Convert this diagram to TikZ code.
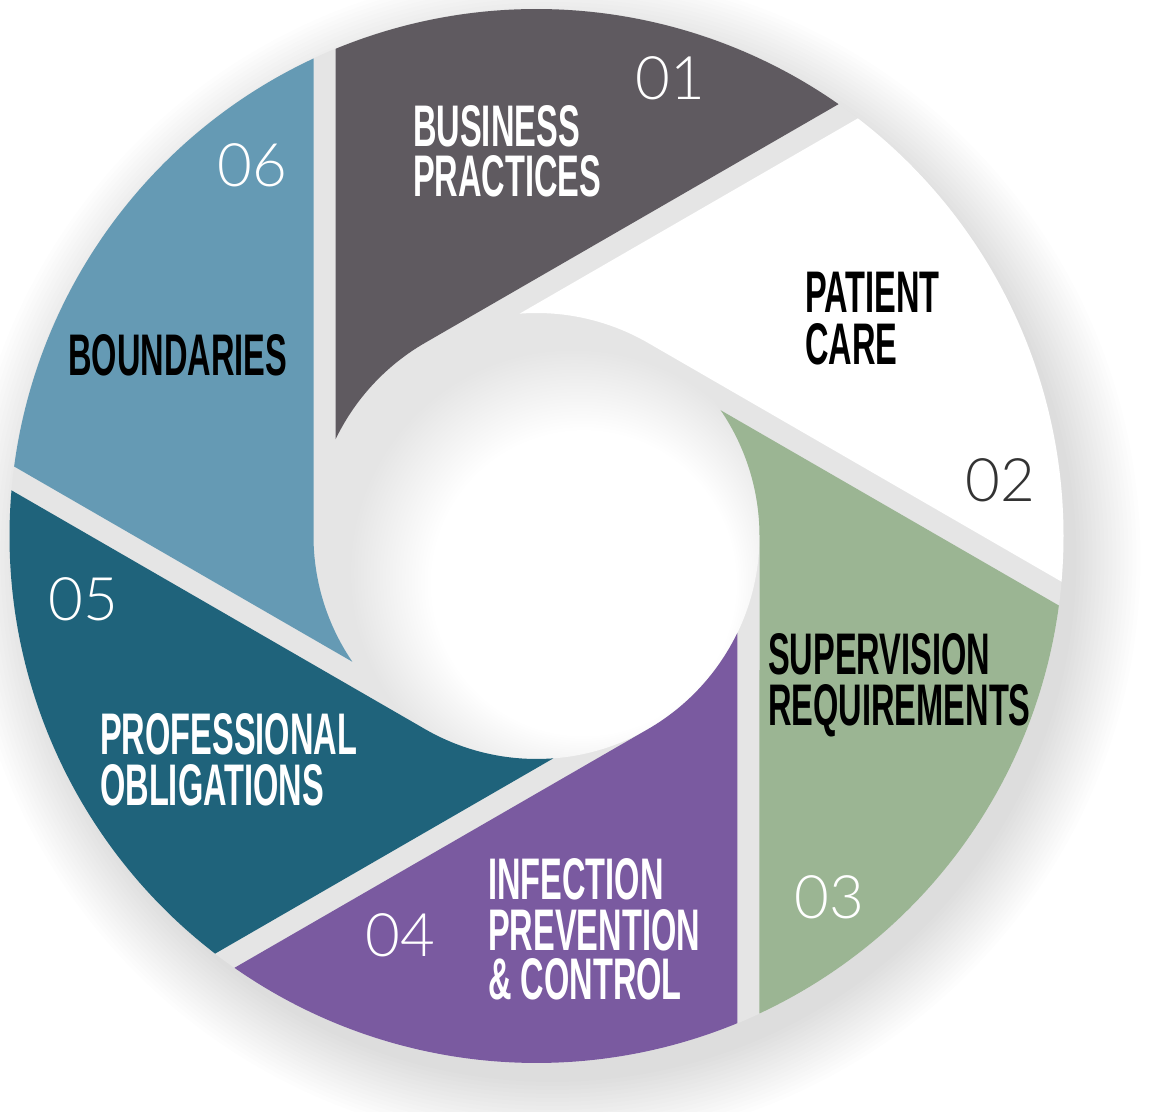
\documentclass[tikz,border=0pt]{standalone}
\usepackage{fontspec}
\usetikzlibrary{calc}
\newfontfamily\labelfont{Liberation Sans}[FakeStretch=0.555]
\newfontfamily\numfont{Lato Light}
\definecolor{bdark}{HTML}{5F5A60}
\definecolor{bwhite}{HTML}{FFFFFF}
\definecolor{bgreen}{HTML}{9BB593}
\definecolor{bpurple}{HTML}{7A5AA0}
\definecolor{bteal}{HTML}{1F637B}
\definecolor{bblue}{HTML}{659AB4}
\definecolor{gapgray}{HTML}{E5E5E5}
\definecolor{numdark}{HTML}{333333}
\pgfdeclareradialshading{holeshade}{\pgfpoint{8bp}{-8bp}}{color(0bp)=(white); color(17bp)=(white); color(25bp)=(gapgray); color(50bp)=(gapgray)}
\tikzset{
  lbl/.style={anchor=base west, inner sep=0pt, font=\labelfont\bfseries\fontsize{58.7}{50.5}\selectfont},
  num/.style={anchor=center, inner sep=0pt, font=\numfont\fontsize{60}{60}\selectfont},
}
\begin{document}
\begin{tikzpicture}[x=1pt,y=1pt]
\useasboundingbox (0,0) rectangle (1159,1111);
\fill[white] (0,0) rectangle (1159,1111);
\coordinate (C) at (536.5,575);
% outer soft shadow
\foreach \i in {0,...,16}{
  \fill[black,opacity=0.009] ($(C)+(16,-22)$) circle[radius={524+4*\i}];
}
% base disk (gaps)
\fill[gapgray] (C) circle[radius=527];
% hole
\shade[shading=holeshade] (C) circle[radius=223];
% blades
\foreach \k/\col in {0/bdark,1/bwhite,2/bgreen,3/bpurple,4/bteal,5/bblue}{
  \begin{scope}[shift={(C)}, rotate={-60*\k}]
    \fill[\col] (112.42:527) -- (154.33:223)
      arc[start angle=154.33, end angle=120, radius=223]
      -- (55.03:527)
      arc[start angle=55.03, end angle=112.42, radius=527] -- cycle;
  \end{scope}
}
% labels
\node[lbl, text=white] (t1a) at (413,964) {BUSINESS};
\node[lbl, text=white] (t1b) at (413,914) {PRACTICES};
\node[lbl, text=black] (t2a) at (805,798) {PATIENT};
\node[lbl, text=black] (t2b) at (805,746) {CARE};
\node[lbl, text=black] (t3a) at (768,436) {SUPERVISION};
\node[lbl, text=black] (t3b) at (768,385) {REQUIREMENTS};
\node[lbl, text=white] (t4a) at (488,211) {INFECTION};
\node[lbl, text=white] (t4b) at (488,160) {PREVENTION};
\node[lbl, text=white] (t4c) at (488,111) {\& CONTROL};
\node[lbl, text=white] (t5a) at (100,356) {PROFESSIONAL};
\node[lbl, text=white] (t5b) at (100,305) {OBLIGATIONS};
\node[lbl, text=black] (t6) at (68,735) {BOUNDARIES};
% numbers
\node[num, text=white] (n1) at (670,1033) {01};
\node[num, text=numdark] (n2) at (1000,631) {02};
\node[num, text=white] (n3) at (829,214) {03};
\node[num, text=white] (n4) at (400,176) {04};
\node[num, text=white] (n5) at (83,512) {05};
\node[num, text=white] (n6) at (252,946) {06};
\end{tikzpicture}
\end{document}
